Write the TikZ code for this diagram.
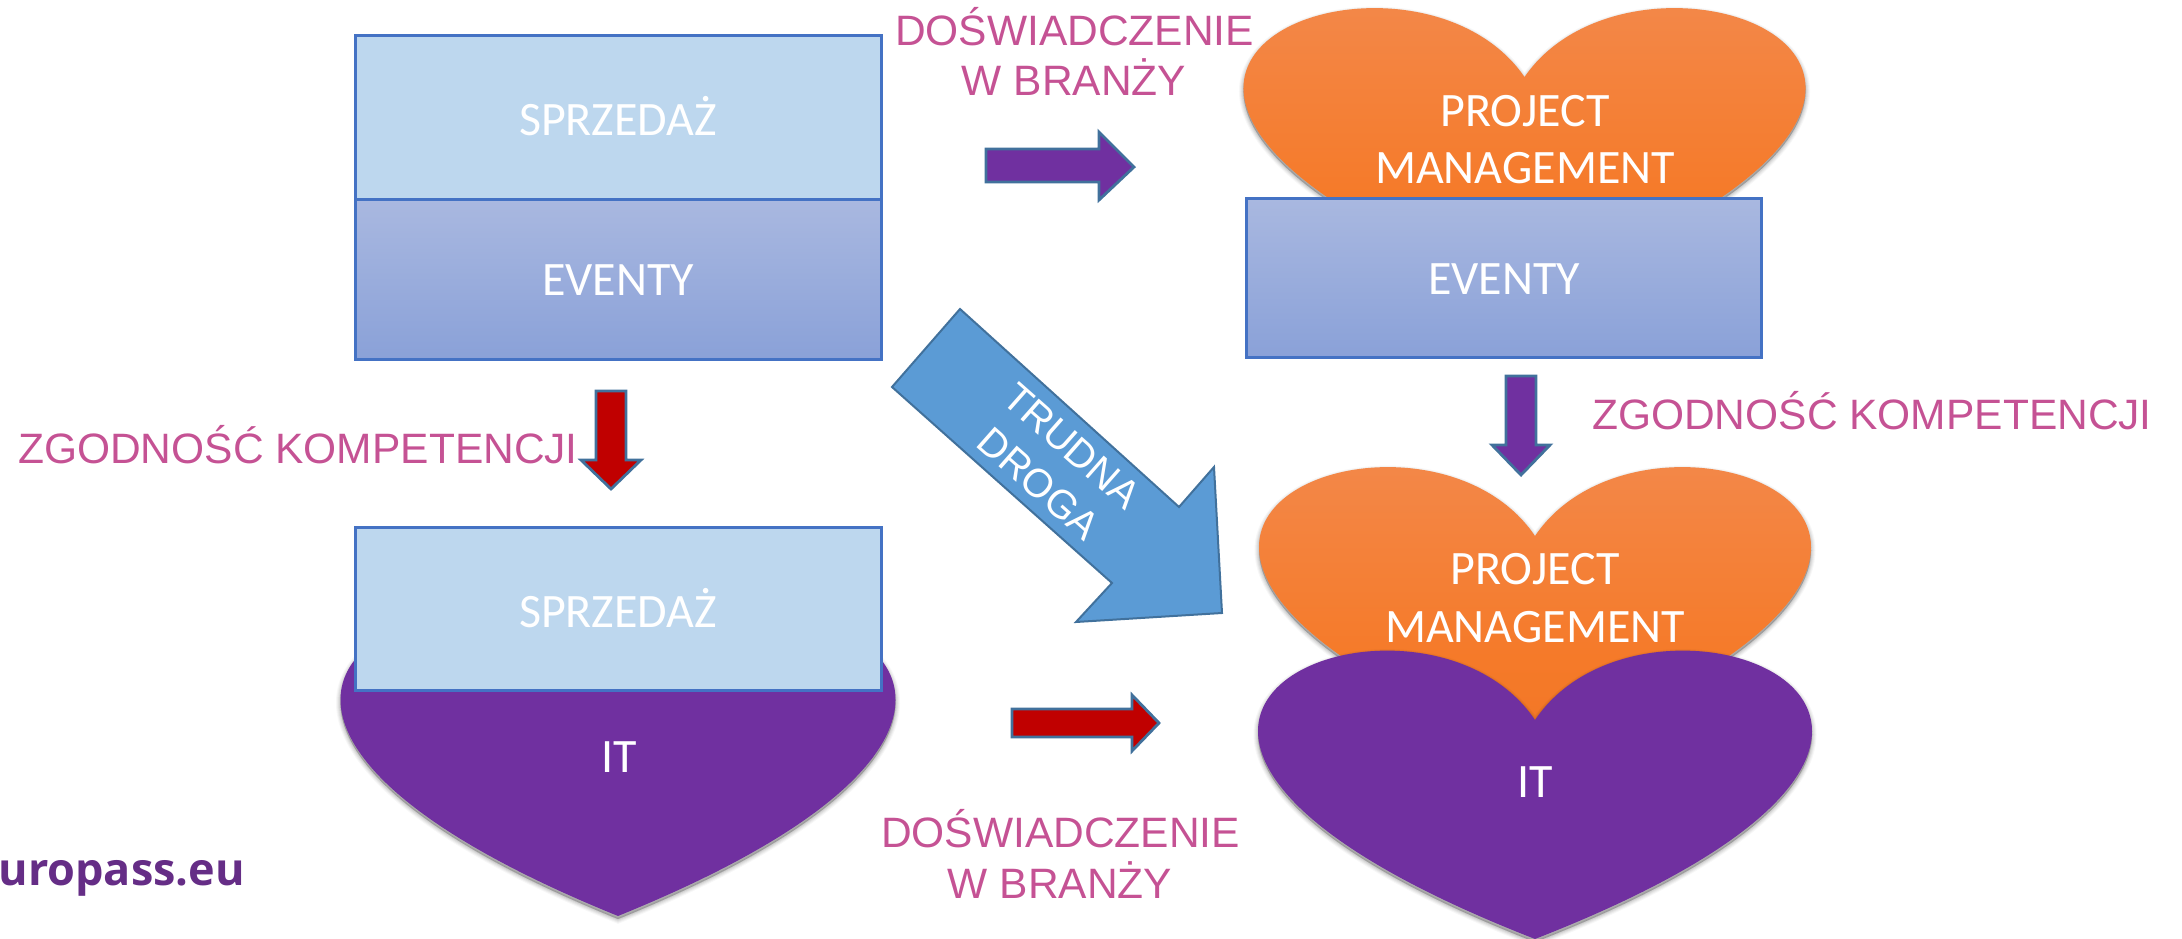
\documentclass[tikz,border=0pt]{standalone}
\usepackage{fontspec}
\setmainfont{Liberation Sans}
\newfontfamily\calfont{Carlito}
\newfontfamily\opfont{Open Sans}[BoldFont={Open Sans Bold}]
\definecolor{lightbox}{HTML}{BDD7EE}
\definecolor{boxedge}{HTML}{4472C4}
\definecolor{evtop}{HTML}{A9B8E0}
\definecolor{evbot}{HTML}{8AA1D8}
\definecolor{ortop}{HTML}{F28E58}
\definecolor{ormid}{HTML}{F57A29}
\definecolor{orbot}{HTML}{EC6F1F}
\definecolor{purp}{HTML}{7030A0}
\definecolor{redd}{HTML}{C00000}
\definecolor{bluearrow}{HTML}{5B9BD5}
\definecolor{arrowedge}{HTML}{41719C}
\definecolor{pinktext}{HTML}{C55294}
\definecolor{eurotext}{HTML}{652D86}
% the box of a heart path reaches h/3 above the heart, because of its control points
\pgfdeclareverticalshading{heartorange}{100bp}{color(0bp)=(orbot); color(37.5bp)=(ormid); color(75bp)=(ortop); color(100bp)=(ortop)}
\tikzset{
  lightrect/.style={draw=boxedge,line width=3pt,fill=lightbox},
  evrect/.style={draw=boxedge,line width=3pt,top color=evtop,bottom color=evbot},
  orangeheart/.style={shading=heartorange,shading angle=0},
  purpleheart/.style={fill=purp},
  blockarrow/.style={draw=arrowedge,line width=2.8pt,line join=miter},
  whitelabel/.style={font=\calfont\fontsize{48}{56}\selectfont,text=white,inner sep=0pt,align=center},
  pinklabel/.style={font=\fontsize{42.5}{52}\selectfont,text=pinktext,inner sep=0pt,align=center},
  roadlabel/.style={font=\fontsize{40}{50}\selectfont,text=white,inner sep=0pt,align=center},
  europass/.style={font=\opfont\bfseries\fontsize{45}{50}\selectfont,text=eurotext,inner sep=0pt}
}
\newcommand{\heartcurve}{(0,.25) .. controls (10/48,-1/3) and (49/48,.25) .. (0,1) .. controls (-49/48,.25) and (-10/48,-1/3) .. (0,.25) -- cycle}
\newcommand{\heartdraw}[5]{%
  \foreach \lw/\op in {9/.03,7/.04,5/.05,3/.06,1/.07}{
    \path[shift={(#1,#2+3)},xscale=#3,yscale=#4,draw=black,fill=black,line width=\lw pt,draw opacity=\op,fill opacity=.05] \heartcurve;
  }
  \path[shift={(#1,#2)},xscale=#3,yscale=#4,#5] \heartcurve;
}
\begin{document}
\begin{tikzpicture}[x=1pt,y=-1pt]
\useasboundingbox (0,0) rectangle (2182,939);
% hearts
\heartdraw{1524.5}{4.5}{558}{290}{orangeheart}
\heartdraw{1535}{463.5}{548}{290}{orangeheart}
\heartdraw{1535}{647}{550}{292}{purpleheart}
\heartdraw{618}{612}{551}{304}{purpleheart}
% rectangles
\draw[lightrect] (355,36) rectangle (881,199);
\draw[evrect] (355,199) rectangle (881,359);
\draw[lightrect] (355,527) rectangle (881,690);
\draw[evrect] (1246,198) rectangle (1761,357);
% block arrows
\draw[blockarrow,fill=purp] (986,149) -- (1099,149) -- (1099,132) -- (1134,167) -- (1099,200) -- (1099,182) -- (986,182) -- cycle;
\draw[blockarrow,fill=redd] (596,391) -- (626,391) -- (626,460) -- (641,460) -- (611,489) -- (581,460) -- (596,460) -- cycle;
\draw[blockarrow,fill=purp] (1506,376) -- (1536,376) -- (1536,445) -- (1550,445) -- (1521,475) -- (1492,445) -- (1506,445) -- cycle;
\draw[blockarrow,fill=redd] (1012,709) -- (1132,709) -- (1132,695) -- (1159,723) -- (1132,751) -- (1132,737) -- (1012,737) -- cycle;
\draw[draw=arrowedge,line width=2pt,fill=bluearrow,line join=miter] (960,309) -- (1179,507) -- (1214,467) -- (1222,613) -- (1076,622) -- (1112,583) -- (892,387) -- cycle;
% white labels
\node[whitelabel,anchor=base] (salesA) at (618,136) {SPRZEDAŻ};
\node[whitelabel,anchor=base] (eventsA) at (618,295) {EVENTY};
\node[whitelabel,anchor=base] (salesB) at (618,627) {SPRZEDAŻ};
\node[whitelabel,anchor=base] (itA) at (619,772) {IT};
\node[whitelabel,anchor=base] (pmA1) at (1525,127) {PROJECT};
\node[whitelabel,anchor=base] (pmA2) at (1525,183) {MANAGEMENT};
\node[whitelabel,anchor=base] (eventsB) at (1504,294) {EVENTY};
\node[whitelabel,anchor=base] (pmB1) at (1535,584) {PROJECT};
\node[whitelabel,anchor=base] (pmB2) at (1535,642) {MANAGEMENT};
\node[whitelabel,anchor=base] (itB) at (1535,797) {IT};
% pink labels
\node[pinklabel,anchor=base] (expA1) at (1074.5,46) {DOŚWIADCZENIE};
\node[pinklabel,anchor=base] (expA2) at (1074,96) {W BRANŻY};
\node[pinklabel,anchor=base] (expB1) at (1060.5,847) {DOŚWIADCZENIE};
\node[pinklabel,anchor=base] (expB2) at (1060,898) {W BRANŻY};
\node[pinklabel,anchor=base] (compA) at (298,463) {ZGODNOŚĆ KOMPETENCJI};
\node[pinklabel,anchor=base] (compB) at (1872,429) {ZGODNOŚĆ KOMPETENCJI};
% road label
\node[roadlabel,rotate=-41.5] (road) at (1055,465) {TRUDNA\\DROGA};
% europass
\node[europass,anchor=base east] (euro) at (245,885) {uropass.eu};
\end{tikzpicture}
\end{document}
